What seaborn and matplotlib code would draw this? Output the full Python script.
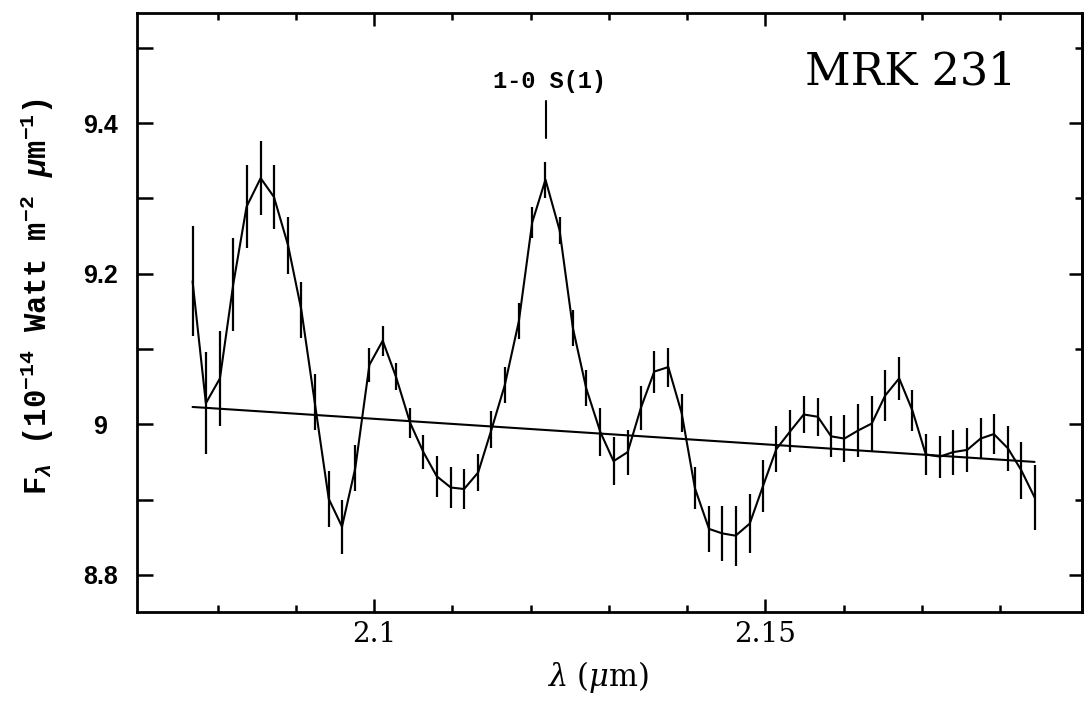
import numpy as np
import pandas as pd
import matplotlib
matplotlib.use("Agg")
import matplotlib.pyplot as plt
import seaborn as sns
from matplotlib.ticker import FixedLocator

# ---- data ----
wavelength = [2.0768, 2.0785, 2.0803, 2.0820, 2.0837, 2.0855, 2.0872, 2.0890, 2.0907,
              2.0924, 2.0942, 2.0959, 2.0976, 2.0994, 2.1011, 2.1028, 2.1046, 2.1063,
              2.1080, 2.1098, 2.1115, 2.1133, 2.1150, 2.1167, 2.1185, 2.1202, 2.1219,
              2.1237, 2.1254, 2.1271, 2.1289, 2.1306, 2.1324, 2.1341, 2.1358, 2.1376,
              2.1393, 2.1410, 2.1428, 2.1445, 2.1462, 2.1480, 2.1497, 2.1514, 2.1532,
              2.1549, 2.1567, 2.1584, 2.1601, 2.1619, 2.1636, 2.1653, 2.1671, 2.1688,
              2.1705, 2.1723, 2.1740, 2.1758, 2.1775, 2.1792, 2.1810, 2.1827, 2.1844]
flux = [9.190, 9.028, 9.061, 9.186, 9.289, 9.327, 9.302, 9.238, 9.152,
        9.030, 8.901, 8.864, 8.942, 9.079, 9.111, 9.063, 9.002, 8.963,
        8.931, 8.916, 8.914, 8.936, 8.993, 9.052, 9.137, 9.268, 9.325,
        9.258, 9.128, 9.048, 8.990, 8.951, 8.963, 9.022, 9.070, 9.076,
        9.015, 8.915, 8.861, 8.855, 8.852, 8.868, 8.918, 8.967, 8.991,
        9.013, 9.010, 8.984, 8.981, 8.992, 9.001, 9.038, 9.061, 9.018,
        8.960, 8.957, 8.963, 8.966, 8.981, 8.987, 8.968, 8.939, 8.903]
flux_err = [0.073, 0.068, 0.063, 0.062, 0.055, 0.049, 0.042, 0.038, 0.037,
            0.037, 0.037, 0.036, 0.031, 0.023, 0.020, 0.018, 0.020, 0.023,
            0.027, 0.027, 0.026, 0.025, 0.025, 0.024, 0.024, 0.021, 0.024,
            0.018, 0.024, 0.024, 0.032, 0.032, 0.030, 0.029, 0.028, 0.026,
            0.025, 0.028, 0.031, 0.036, 0.040, 0.039, 0.034, 0.031, 0.028,
            0.025, 0.025, 0.027, 0.031, 0.035, 0.037, 0.034, 0.029, 0.027,
            0.027, 0.028, 0.030, 0.029, 0.027, 0.027, 0.030, 0.038, 0.043]
continuum_wavelength = [2.0768, 2.1844]
continuum_flux = [9.023, 8.950]

line_name = "1-0 S(1)"
line_wavelength = 2.1220
line_marker_flux = [9.380, 9.429]
line_label_flux = 9.455
object_name = "MRK 231"

xtick_values = [2.1, 2.15]
xtick_labels = ["2.1", "2.15"]
xminor_values = [2.08, 2.09, 2.11, 2.12, 2.13, 2.14, 2.16, 2.17, 2.18]
ytick_values = [8.8, 9.0, 9.2, 9.4]
ytick_labels = ["8.8", "9", "9.2", "9.4"]
yminor_values = [8.9, 9.1, 9.3, 9.5]
x_limits = (2.0697, 2.1904)
y_limits = (8.751, 9.546)

# ---- style ----
sns.set_theme(style="ticks")
plt.rcParams.update({
    "font.family": ["DejaVu Serif"],
    "mathtext.fontset": "custom",
    "mathtext.rm": "Liberation Mono:bold",
    "mathtext.it": "Liberation Mono:italic:bold",
    "mathtext.bf": "Liberation Mono:bold",
    "axes.edgecolor": "black",
    "axes.labelcolor": "black",
    "text.color": "black",
    "axes.linewidth": 2.0,
    "xtick.color": "black",
    "ytick.color": "black",
})

W, H = 1084, 713
fig = plt.figure(figsize=(W / 100, H / 100), dpi=100)
left, right, top, bottom = 137, 1081.5, 13.3, 611.7
ax = fig.add_axes([left / W, 1 - bottom / H, (right - left) / W, (bottom - top) / H])
ax.set_facecolor("white")

df = pd.DataFrame({"wavelength": wavelength, "flux": flux})
cont = pd.DataFrame({"wavelength": continuum_wavelength, "flux": continuum_flux})

ax.errorbar(wavelength, flux, yerr=flux_err, fmt="none", ecolor="black",
            elinewidth=1.6, capsize=0)
sns.lineplot(data=df, x="wavelength", y="flux", ax=ax, color="black",
             linewidth=1.5, sort=False)
sns.lineplot(data=cont, x="wavelength", y="flux", ax=ax, color="black",
             linewidth=1.5)

# line marker and label
ax.plot([line_wavelength, line_wavelength], line_marker_flux, color="black", lw=1.5)
ax.text(line_wavelength + 0.0004, line_label_flux, line_name, ha="center", va="center",
        fontfamily="Liberation Mono", fontweight="bold", fontsize=17, color="black")
ax.text(0.8187, 0.9015, object_name, transform=ax.transAxes, ha="center", va="center",
        fontfamily="DejaVu Serif", fontsize=32, color="black")

ax.set_xlim(*x_limits)
ax.set_ylim(*y_limits)

# x ticks
ax.xaxis.set_major_locator(FixedLocator(xtick_values))
ax.set_xticklabels(xtick_labels, fontfamily="DejaVu Serif", fontsize=20, color="black")
ax.xaxis.set_minor_locator(FixedLocator(xminor_values))
ax.tick_params(axis="x", which="both", direction="in", top=True, bottom=True, width=1.8)
ax.tick_params(axis="x", which="major", length=9.4, pad=6.5)
ax.tick_params(axis="x", which="minor", length=5)

# y ticks (left)
ax.yaxis.set_major_locator(FixedLocator(ytick_values))
ax.set_yticklabels(ytick_labels, fontfamily="Liberation Sans", fontweight="bold",
                   fontsize=18, ha="center", color="black")
ax.yaxis.set_minor_locator(FixedLocator(yminor_values))
ax.tick_params(axis="y", which="both", direction="in", left=True, right=False,
               length=11.5, width=1.8, pad=26.5)

# right-side ticks
sec = ax.secondary_yaxis("right")
sec.yaxis.set_major_locator(FixedLocator(ytick_values))
sec.yaxis.set_minor_locator(FixedLocator(yminor_values))
sec.tick_params(which="both", direction="in", width=1.8, labelright=False)
sec.tick_params(which="major", length=9.4)
sec.tick_params(which="minor", length=5)
sec.set_yticklabels([])

for s in ax.spines.values():
    s.set_visible(True)
    s.set_linewidth(2.0)
    s.set_color("black")

ax.set_xlabel(r"$\lambda\ (\mu\mathrm{m})$", fontsize=22, math_fontfamily="dejavuserif",
              color="black")
ax.xaxis.label.set_va("center")
ax.xaxis.set_label_coords(0.488, -0.1085)
ax.set_ylabel(r"F$_\lambda$ (10$^{-14}$ Watt m$^{-2}$ $\mu$m$^{-1}$)",
              fontfamily="Liberation Mono", fontweight="bold", fontsize=22, color="black")
ax.yaxis.label.set_va("center")
ax.yaxis.set_label_coords(-0.106, 0.527)

fig.savefig("out.png", dpi=100, facecolor="white")
